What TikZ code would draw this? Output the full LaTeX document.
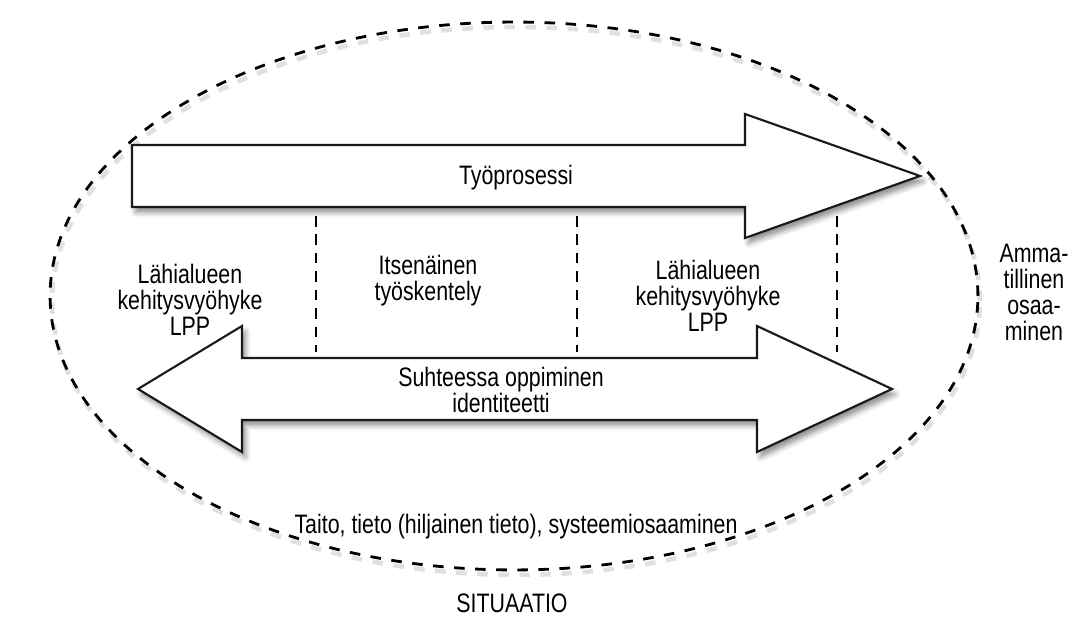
\documentclass[tikz,border=0pt]{standalone}
\usepackage{fontspec}
\setmainfont{Liberation Sans}[FakeStretch=0.8]
\usetikzlibrary{shadows.blur}

\begin{document}
\begin{tikzpicture}[
    x=0.02cm, y=-0.02cm,
    line join=miter,
    flow/.style={
        draw=black!90,
        line width=1.2pt,
        fill=white,
        blur shadow={shadow xshift=2pt, shadow yshift=-3pt,
            shadow blur radius=3pt, shadow opacity=45}
    },
    zone/.style={
        dash pattern=on 6pt off 6pt,
        line width=1.6pt
    },
    txt/.style={
        align=center,
        inner sep=0pt,
        font=\fontsize{15.2}{14.8}\selectfont
    }
]

    \useasboundingbox (0,0) rectangle (1072,617);

    % situaatio
    \draw[zone, black!12, line width=2.6pt, shift={(2,5)}]
        (514,296) ellipse [x radius=9.28cm, y radius=5.48cm];
    \draw[zone] (514,296) ellipse [x radius=9.28cm, y radius=5.48cm];

    % tyoprosessi
    \draw[flow] (132,145) -- (745,145) -- (745,114) -- (920,176)
        -- (745,238) -- (745,207) -- (132,207) -- cycle;

    % suhteessa oppiminen
    \draw[flow] (138,389) -- (242,326) -- (242,358) -- (757,358)
        -- (757,326) -- (892,389) -- (757,452) -- (757,420)
        -- (242,420) -- (242,452) -- cycle;

    \foreach \x in {316,577,837}{
        \draw[zone, dash pattern=on 6pt off 4.5pt, line width=1.3pt]
            (\x,216) -- (\x,352);
    }

    \node[txt] (prosessi) at (516,178) {Työprosessi};
    \node[txt] (lpp1) at (190,300) {Lähialueen\\kehitysvyöhyke\\LPP};
    \node[txt] (itse) at (428,281) {Itsenäinen\\työskentely};
    \node[txt] (lpp2) at (708,296) {Lähialueen\\kehitysvyöhyke\\LPP};
    \node[txt] (amm) at (1034,292) {Amma-\\tillinen\\osaa-\\minen};
    \node[txt] (suhde) at (501,390) {Suhteessa oppiminen\\identiteetti};
    \node[txt] (taito) at (516,527)
        {Taito, tieto (hiljainen tieto), systeemiosaaminen};
    \node[txt] (sit) at (512,603) {SITUAATIO};

\end{tikzpicture}
\end{document}
